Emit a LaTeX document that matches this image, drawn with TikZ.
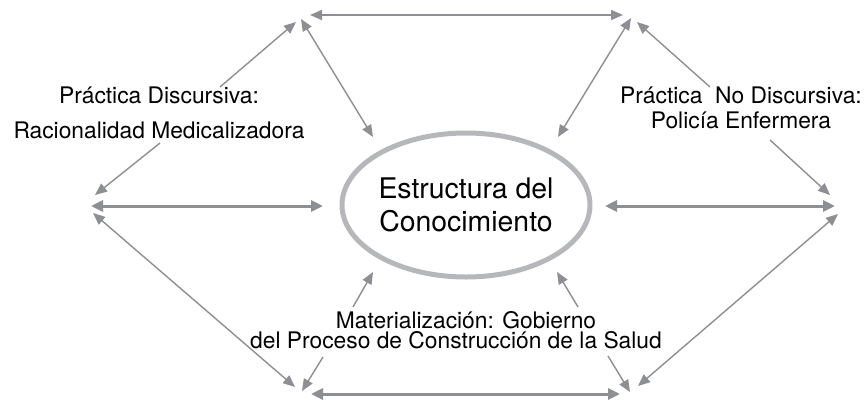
\documentclass[tikz,border=0pt]{standalone}
\usepackage{fontspec}
\setmainfont{TeX Gyre Heros}
\usepackage{tikz}
\usetikzlibrary{arrows.meta,shapes.geometric}
\definecolor{flecha}{RGB}{142,143,148}
\definecolor{aro}{RGB}{182,183,187}
\tikzstyle{punta} = [>={Triangle[length=12pt,width=10pt]}]
\tikzstyle{dbl} = [punta, draw=flecha, fill=flecha, line width=1.4pt, <->]
\tikzstyle{sgl} = [punta, draw=flecha, fill=flecha, line width=1.4pt, ->]
\tikzstyle{gruesa} = [line width=3pt, >={Triangle[length=12pt,width=11pt]}]
\tikzstyle{etiqueta} = [inner sep=0pt, align=center, font=\fontsize{22.8}{35}\selectfont]

\begin{document}
\begin{tikzpicture}[x=1pt,y=-1pt]
\useasboundingbox (0,0) rectangle (865,402);
% centro
\node[ellipse, draw=aro, line width=5pt, minimum width=248pt, minimum height=144pt, inner sep=0pt, align=center, font=\fontsize{28.4}{33}\selectfont] (ell) at (466,205) {Estructura del\\Conocimiento};
% etiquetas
\node[etiqueta] (discursiva) at (159,113) {Práctica Discursiva:\\Racionalidad Medicalizadora};
\node[etiqueta, font=\fontsize{22.8}{25}\selectfont] (nodiscursiva) at (741,108) {Práctica~ No Discursiva:\\Policía Enfermera};
\node[etiqueta, font={\fontsize{22.8}{20.5}\selectfont\lineskiplimit=-50pt\relax}] (materia) at (456,330) {\hspace*{20pt}Materialización: Gobierno\\del Proceso de Construcción de la Salud};
% extremos
\coordinate (sup-i) at (310,15);
\coordinate (sup-d) at (623,15);
\coordinate (disc-a) at (220,87);
\coordinate (disc-at) at (296,22);
\coordinate (si-e) at (301,19);
\coordinate (ell-si) at (373,137);
\coordinate (disc-b) at (160,143);
\coordinate (disc-bt) at (95,195);
\coordinate (izq-h) at (91,206);
\coordinate (ell-i) at (323,206);
\coordinate (izq-d) at (93,213);
\coordinate (ii-d) at (295,387);
\coordinate (mat-i) at (323,357);
\coordinate (mat-it) at (302,391);
\coordinate (mat-ia) at (353,307);
\coordinate (ell-ii) at (373,272);
\coordinate (inf-i) at (311,394);
\coordinate (inf-d) at (620,394);
\coordinate (mat-d) at (608,356);
\coordinate (mat-dt) at (630,392);
\coordinate (mat-da) at (578,307);
\coordinate (ell-id) at (557,272);
\coordinate (id-d) at (638,386);
\coordinate (der-d) at (838,214);
\coordinate (ell-d) at (605,206);
\coordinate (der-h) at (835,206);
\coordinate (nod-b) at (770,140);
\coordinate (nod-bt) at (830,195);
\coordinate (nod-a) at (710,87);
\coordinate (nod-at) at (637,22);
\coordinate (sd-e) at (631,18);
\coordinate (ell-sd) at (558,137);
% flechas dobles
\draw[dbl, line width=1.8pt] (sup-i) -- (sup-d);
\draw[dbl] (si-e) -- (ell-si);
\draw[dbl, gruesa] (izq-h) -- (ell-i);
\draw[dbl] (izq-d) -- (ii-d);
\draw[dbl, gruesa] (inf-i) -- (inf-d);
\draw[dbl] (id-d) -- (der-d);
\draw[dbl, gruesa] (ell-d) -- (der-h);
\draw[dbl] (sd-e) -- (ell-sd);
% flechas simples
\draw[sgl] (disc-a) -- (disc-at);
\draw[sgl] (disc-b) -- (disc-bt);
\draw[sgl] (mat-i) -- (mat-it);
\draw[sgl] (mat-ia) -- (ell-ii);
\draw[sgl] (mat-d) -- (mat-dt);
\draw[sgl] (mat-da) -- (ell-id);
\draw[sgl] (nod-b) -- (nod-bt);
\draw[sgl] (nod-a) -- (nod-at);
\end{tikzpicture}
\end{document}
